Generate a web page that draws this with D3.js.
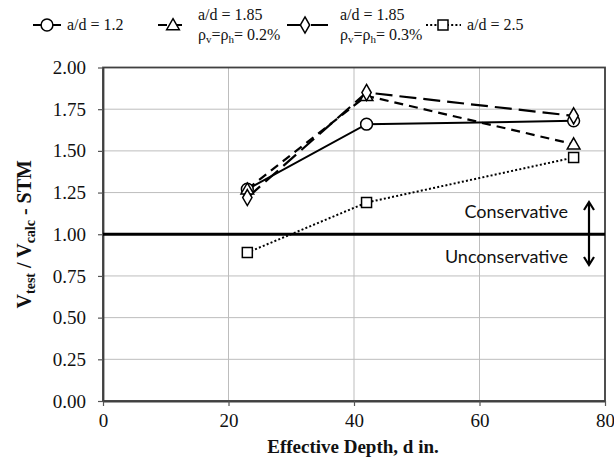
<!DOCTYPE html>
<html><head><meta charset="utf-8">
<script src="https://cdn.jsdelivr.net/npm/d3@7"></script>
<style>
html,body{margin:0;padding:0;background:#fff;}
svg{display:block;}
</style></head>
<body>
<svg id="chart" width="614" height="464"></svg>
<script>
// ---- data ----
const depth = [23, 42, 75];
const ad12 = [1.27, 1.66, 1.68];
const ad185a = [1.27, 1.83, 1.54];
const ad185b = [1.22, 1.85, 1.71];
const ad25 = [0.89, 1.19, 1.46];
const xTicks = [0, 20, 40, 60, 80];
const yTicks = [0, 0.25, 0.5, 0.75, 1.0, 1.25, 1.5, 1.75, 2.0];
const seriesNames = ["a/d = 1.2", "a/d = 1.85", "a/d = 1.85", "a/d = 2.5"];
const seriesSub = [null, "0.2%", "0.3%", null];
const xTitle = "Effective Depth, d  in.";
const zoneLabels = ["Conservative", "Unconservative"];

const svg = d3.select("#chart");
const L = 103, R = 605, T = 67.5, B = 401;
const x = d3.scaleLinear().domain([0, 80]).range([L, R]);
const y = d3.scaleLinear().domain([0, 2]).range([B, T]);
const serif = "'Liberation Serif','Times New Roman',serif";

// gridlines
svg.append("g").selectAll("line").data(yTicks).join("line")
  .attr("x1", L).attr("x2", R).attr("y1", d => y(d)).attr("y2", d => y(d))
  .attr("stroke", "#bdbdbd").attr("stroke-width", 1);
svg.append("g").selectAll("line").data(xTicks).join("line")
  .attr("y1", T).attr("y2", B).attr("x1", d => x(d)).attr("x2", d => x(d))
  .attr("stroke", "#bdbdbd").attr("stroke-width", 1);

// frame
svg.append("rect").attr("x", L).attr("y", T).attr("width", R - L).attr("height", B - T)
  .attr("fill", "none").attr("stroke", "#404040").attr("stroke-width", 1.8);

// axes
const xAxis = d3.axisBottom(x).tickValues(xTicks).tickSize(5).tickSizeOuter(0).tickPadding(8);
const gx = svg.append("g").attr("transform", `translate(0,${B})`).call(xAxis);
const yAxis = d3.axisLeft(y).tickValues(yTicks).tickSize(5).tickSizeOuter(0).tickPadding(12)
  .tickFormat(d3.format(".2f"));
const gy = svg.append("g").attr("transform", `translate(${L},0)`).call(yAxis);
[gx, gy].forEach(g => {
  g.attr("font-family", serif).attr("font-size", 19);
  g.select(".domain").attr("stroke", "#404040").attr("stroke-width", 1.8);
  g.selectAll(".tick line").attr("stroke", "#555").attr("stroke-width", 1.2);
  g.selectAll(".tick text").attr("fill", "#111");
});

// y = 1 line
svg.append("line").attr("x1", x(0)).attr("x2", x(80)).attr("y1", y(1)).attr("y2", y(1))
  .attr("stroke", "#000").attr("stroke-width", 3);

// axis titles
svg.append("text").attr("x", (L + R) / 2 - 1).attr("y", 453).attr("text-anchor", "middle")
  .attr("font-family", serif).attr("font-size", 19).attr("font-weight", "bold")
  .attr("fill", "#111").text(xTitle);
const yt = svg.append("text").attr("transform", `translate(31,${(T + B) / 2}) rotate(-90)`)
  .attr("text-anchor", "middle").attr("font-family", serif).attr("font-size", 20)
  .attr("font-weight", "bold").attr("fill", "#111");
yt.append("tspan").text("V");
yt.append("tspan").attr("dy", 4).attr("font-size", 14).text("test");
yt.append("tspan").attr("dy", -4).text(" / V");
yt.append("tspan").attr("dy", 4).attr("font-size", 14).text("calc");
yt.append("tspan").attr("dy", -4).text(" - STM");

// series
const series = [
  {vals: ad12, dash: null, width: 2, marker: "circle"},
  {vals: ad185a, dash: "9,6", width: 2.2, marker: "triangle"},
  {vals: ad185b, dash: "17,7", width: 2.2, marker: "diamond"},
  {vals: ad25, dash: "2,2.2", width: 2, marker: "square"}
];
const line = d3.line().x(d => x(d[0])).y(d => y(d[1]));
const symMap = {
  circle: d3.symbol().type(d3.symbolCircle).size(110),
  triangle: d3.symbol().type(d3.symbolTriangle).size(70),
  diamond: d3.symbol().type(d3.symbolDiamond).size(75),
  square: d3.symbol().type(d3.symbolSquare).size(100)
};
series.forEach(s => {
  svg.append("path").datum(depth.map((d, j) => [d, s.vals[j]]))
    .attr("d", line).attr("fill", "none").attr("stroke", "#000")
    .attr("stroke-width", s.width).attr("stroke-dasharray", s.dash);
});
series.forEach(s => {
  svg.append("g").selectAll("path").data(depth.map((d, j) => [d, s.vals[j]])).join("path")
    .attr("d", symMap[s.marker]())
    .attr("transform", d => `translate(${x(d[0])},${y(d[1]) + (s.marker === "triangle" ? 1 : 0)})`)
    .attr("fill", "#fff").attr("stroke", "#000").attr("stroke-width", 1.5);
});

// conservative annotations
const sans = "Lato, 'Open Sans', sans-serif";
svg.append("text").attr("x", 568).attr("y", 218).attr("text-anchor", "end")
  .attr("font-family", sans).attr("font-size", 18).attr("fill", "#111").text(zoneLabels[0]);
svg.append("text").attr("x", 568).attr("y", 263).attr("text-anchor", "end")
  .attr("font-family", sans).attr("font-size", 18).attr("fill", "#111").text(zoneLabels[1]);
const ax = 589, ay1 = 202, ay2 = 265;
svg.append("line").attr("x1", ax).attr("x2", ax).attr("y1", ay1 + 1).attr("y2", ay2 - 1)
  .attr("stroke", "#000").attr("stroke-width", 2.2);
svg.append("path").attr("d", `M${ax - 5},${ay1 + 8}L${ax},${ay1}L${ax + 5},${ay1 + 8}`)
  .attr("fill", "none").attr("stroke", "#000").attr("stroke-width", 2.2);
svg.append("path").attr("d", `M${ax - 5},${ay2 - 8}L${ax},${ay2}L${ax + 5},${ay2 - 8}`)
  .attr("fill", "none").attr("stroke", "#000").attr("stroke-width", 2.2);

// legend
const leg = [
  {cx: 47, x1: 33, x2: 61, tx: 67},
  {cx: 173, x1: 158, x2: 188, tx: 198},
  {cx: 305, x1: 287, x2: 333, tx: 340},
  {cx: 443, x1: 426, x2: 461, tx: 467}
];
leg.forEach((l, i) => {
  const s = series[i];
  const g = svg.append("g");
  g.append("line").attr("x1", l.x1).attr("x2", l.x2).attr("y1", 25).attr("y2", 25)
    .attr("stroke", "#000").attr("stroke-width", s.width).attr("stroke-dasharray", s.dash);
  g.append("path").attr("d", symMap[s.marker]())
    .attr("transform", `translate(${l.cx},${25 + (s.marker === "triangle" ? 1 : 0)})`)
    .attr("fill", "#fff").attr("stroke", "#000").attr("stroke-width", 1.5);
  if (seriesSub[i] === null) {
    g.append("text").attr("x", l.tx).attr("y", 30).attr("font-family", serif)
      .attr("font-size", 16).attr("fill", "#111").text(seriesNames[i]);
  } else {
    g.append("text").attr("x", l.tx).attr("y", 20).attr("font-family", serif)
      .attr("font-size", 16).attr("fill", "#111").text(seriesNames[i]);
    const t2 = g.append("text").attr("x", l.tx).attr("y", 40).attr("font-family", serif)
      .attr("font-size", 16).attr("fill", "#111");
    t2.append("tspan").text("ρ");
    t2.append("tspan").attr("dy", 3).attr("font-size", 11).text("v");
    t2.append("tspan").attr("dy", -3).text("=ρ");
    t2.append("tspan").attr("dy", 3).attr("font-size", 11).text("h");
    t2.append("tspan").attr("dy", -3).text("= " + seriesSub[i]);
  }
});
</script>
</body></html>
